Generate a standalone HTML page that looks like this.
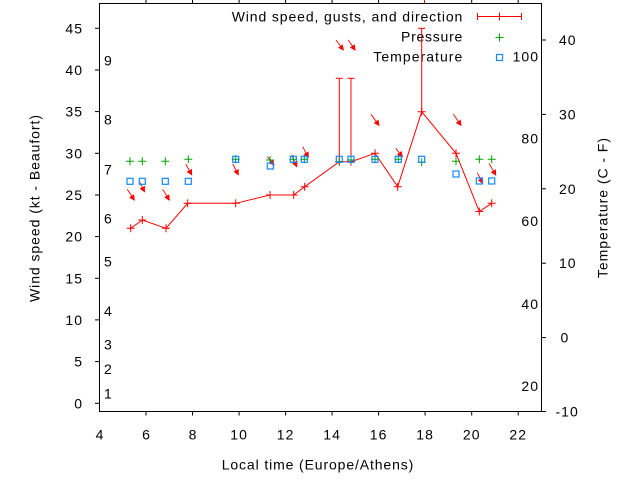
<!DOCTYPE html>
<html>
<head>
<meta charset="utf-8">
<style>
  html,body{margin:0;padding:0;background:#fff;}
  svg{display:block;}
  text{font-family:"Liberation Sans",sans-serif;font-size:14px;fill:#000;}
</style>
</head>
<body>
<svg width="640" height="480" viewBox="0 0 640 480" xmlns="http://www.w3.org/2000/svg">
  <defs>
    <marker id="ah" markerWidth="6" markerHeight="6" refX="5" refY="3" orient="auto" markerUnits="userSpaceOnUse">
      <path d="M0,0 L6,3 L0,6 z" fill="#ff0000"/>
    </marker>
  </defs>
  <rect x="0" y="0" width="640" height="480" fill="#fff"/>

  <!-- border -->
  <rect x="99.5" y="3.5" width="442" height="408" fill="none" stroke="#000" stroke-width="1"/>

  <!-- left ticks (outward) -->
  <g stroke="#000" stroke-width="1">
    <line x1="95" y1="403.3" x2="99.5" y2="403.3"/>
    <line x1="95" y1="361.6" x2="99.5" y2="361.6"/>
    <line x1="95" y1="319.9" x2="99.5" y2="319.9"/>
    <line x1="95" y1="278.3" x2="99.5" y2="278.3"/>
    <line x1="95" y1="236.6" x2="99.5" y2="236.6"/>
    <line x1="95" y1="195" x2="99.5" y2="195"/>
    <line x1="95" y1="153.3" x2="99.5" y2="153.3"/>
    <line x1="95" y1="111.6" x2="99.5" y2="111.6"/>
    <line x1="95" y1="70" x2="99.5" y2="70"/>
    <line x1="95" y1="28.3" x2="99.5" y2="28.3"/>
    <!-- right ticks -->
    <line x1="541.5" y1="411.5" x2="546" y2="411.5"/>
    <line x1="541.5" y1="337.6" x2="546" y2="337.6"/>
    <line x1="541.5" y1="263.2" x2="546" y2="263.2"/>
    <line x1="541.5" y1="188.8" x2="546" y2="188.8"/>
    <line x1="541.5" y1="114.4" x2="546" y2="114.4"/>
    <line x1="541.5" y1="40" x2="546" y2="40"/>
    <!-- bottom ticks -->
    <line x1="146" y1="411.5" x2="146" y2="415.5"/>
    <line x1="192.5" y1="411.5" x2="192.5" y2="415.5"/>
    <line x1="239.1" y1="411.5" x2="239.1" y2="415.5"/>
    <line x1="285.6" y1="411.5" x2="285.6" y2="415.5"/>
    <line x1="332.1" y1="411.5" x2="332.1" y2="415.5"/>
    <line x1="378.6" y1="411.5" x2="378.6" y2="415.5"/>
    <line x1="425.1" y1="411.5" x2="425.1" y2="415.5"/>
    <line x1="471.7" y1="411.5" x2="471.7" y2="415.5"/>
    <line x1="518.2" y1="411.5" x2="518.2" y2="415.5"/>
    <!-- top ticks -->
    <line x1="146" y1="0" x2="146" y2="3.5"/>
    <line x1="192.5" y1="0" x2="192.5" y2="3.5"/>
    <line x1="239.1" y1="0" x2="239.1" y2="3.5"/>
    <line x1="285.6" y1="0" x2="285.6" y2="3.5"/>
    <line x1="332.1" y1="0" x2="332.1" y2="3.5"/>
    <line x1="378.6" y1="0" x2="378.6" y2="3.5"/>
    <line x1="471.7" y1="0" x2="471.7" y2="3.5"/>
    <line x1="518.2" y1="0" x2="518.2" y2="3.5"/>
  </g>
  <line x1="424.5" y1="0" x2="424.5" y2="3.5" stroke="#ff0000" stroke-width="1"/>

  <!-- left axis labels -->
  <g text-anchor="end" style="letter-spacing:1px">
    <text x="83" y="408.3">0</text>
    <text x="83" y="366.6">5</text>
    <text x="83" y="324.9">10</text>
    <text x="83" y="283.3">15</text>
    <text x="83" y="241.6">20</text>
    <text x="83" y="200">25</text>
    <text x="83" y="158.3">30</text>
    <text x="83" y="116.6">35</text>
    <text x="83" y="75">40</text>
    <text x="83" y="33.3">45</text>
  </g>

  <!-- Beaufort labels -->
  <g>
    <text x="104" y="65.3">9</text>
    <text x="104" y="124.3">8</text>
    <text x="104" y="174.3">7</text>
    <text x="104" y="223.3">6</text>
    <text x="104" y="266.7">5</text>
    <text x="104" y="316">4</text>
    <text x="104" y="349.3">3</text>
    <text x="104" y="374">2</text>
    <text x="104" y="398.3">1</text>
  </g>

  <!-- Fahrenheit labels -->
  <g text-anchor="end" style="letter-spacing:1px">
    <text x="539" y="61.7">100</text>
    <text x="539" y="143.3">80</text>
    <text x="539" y="226">60</text>
    <text x="539" y="309">40</text>
    <text x="539" y="391">20</text>
  </g>

  <!-- Celsius labels -->
  <g style="letter-spacing:1px">
    <text x="559" y="45">40</text>
    <text x="559" y="119.4">30</text>
    <text x="559" y="193.8">20</text>
    <text x="559" y="268.2">10</text>
    <text x="560.5" y="342.6">0</text>
    <text x="555.5" y="416.5">-10</text>
  </g>

  <!-- bottom labels -->
  <g text-anchor="middle">
    <text x="99.5" y="439.5">4</text>
    <text x="146" y="439.5">6</text>
    <text x="192.5" y="439.5">8</text>
    <text x="239.1" y="439.5" style="letter-spacing:1px">10</text>
    <text x="285.6" y="439.5" style="letter-spacing:1px">12</text>
    <text x="332.1" y="439.5" style="letter-spacing:1px">14</text>
    <text x="378.6" y="439.5" style="letter-spacing:1px">16</text>
    <text x="425.1" y="439.5" style="letter-spacing:1px">18</text>
    <text x="471.7" y="439.5" style="letter-spacing:1px">20</text>
    <text x="518.2" y="439.5" style="letter-spacing:1px">22</text>
  </g>

  <!-- axis titles -->
  <text x="221.7" y="469.5" textLength="191.6" lengthAdjust="spacing">Local time (Europe/Athens)</text>
  <text transform="translate(39.3,302) rotate(-90)" x="0" y="0" textLength="187" lengthAdjust="spacing">Wind speed (kt - Beaufort)</text>
  <text transform="translate(607.5,278) rotate(-90)" x="0" y="0" textLength="140" lengthAdjust="spacing">Temperature (C - F)</text>

  <!-- legend -->
  <text x="231.7" y="21.5" textLength="230.6" lengthAdjust="spacing">Wind speed, gusts, and direction</text>
  <text x="401" y="41.5" textLength="61.3" lengthAdjust="spacing">Pressure</text>
  <text x="373.3" y="61.5" textLength="89" lengthAdjust="spacing">Temperature</text>
  <g stroke="#ff0000" stroke-width="1">
    <line x1="477.5" y1="16.5" x2="521.5" y2="16.5"/>
    <line x1="477.5" y1="13" x2="477.5" y2="20"/>
    <line x1="521.5" y1="13" x2="521.5" y2="20"/>
    <line x1="499.5" y1="12.5" x2="499.5" y2="20.5"/>
  </g>
  <g stroke="#00a000" stroke-width="1">
    <line x1="495.5" y1="37.5" x2="503.5" y2="37.5"/>
    <line x1="499.5" y1="33.5" x2="499.5" y2="41.5"/>
  </g>
  <rect x="496.5" y="54.5" width="6" height="6" fill="none" stroke="#1088ff" stroke-width="1.2"/>

  <!-- direction arrows -->
  <g stroke="#ff0000" stroke-width="0.9" fill="none" marker-end="url(#ah)">
    <line x1="127.3" y1="189.3" x2="134.3" y2="200"/>
    <line x1="140" y1="182.7" x2="144.5" y2="191.7"/>
    <line x1="162.7" y1="189.3" x2="169.3" y2="200"/>
    <line x1="185.7" y1="164" x2="191.7" y2="174.7"/>
    <line x1="232.7" y1="164" x2="238.3" y2="174.7"/>
    <line x1="267.3" y1="156.7" x2="274" y2="165"/>
    <line x1="291.7" y1="155" x2="296.7" y2="166.7"/>
    <line x1="302.7" y1="146.7" x2="308.3" y2="157.3"/>
    <line x1="336" y1="40" x2="343.3" y2="50"/>
    <line x1="348.3" y1="40" x2="355" y2="50"/>
    <line x1="371" y1="114.3" x2="379" y2="125.3"/>
    <line x1="395.7" y1="148.3" x2="402.3" y2="156.7"/>
    <line x1="453.3" y1="114.3" x2="461" y2="125.3"/>
    <line x1="477.3" y1="172.7" x2="482.7" y2="183.3"/>
    <line x1="489" y1="163.3" x2="495.7" y2="175"/>
  </g>

  <!-- gust error bars -->
  <g stroke="#ff0000" stroke-width="1">
    <line x1="339.3" y1="161.7" x2="339.3" y2="78.3"/>
    <line x1="335.8" y1="78.3" x2="342.8" y2="78.3"/>
    <line x1="351" y1="161.7" x2="351" y2="78.3"/>
    <line x1="347.5" y1="78.3" x2="354.5" y2="78.3"/>
    <line x1="421.7" y1="111.7" x2="421.7" y2="28.3"/>
    <line x1="418.2" y1="28.3" x2="425.2" y2="28.3"/>
  </g>

  <!-- wind line -->
  <polyline fill="none" stroke="#ff0000" stroke-width="1"
    points="130.7,228.3 142.3,220 166,228.3 187.7,203.3 235.7,203.3 270,195 293.7,195 304.7,186.7 339.3,161.7 351,161.7 375,153.3 397.7,186.7 421.7,111.7 456,153.3 479.3,211.5 491.7,203.3"/>
  <g stroke="#ff0000" stroke-width="1">
    <path d="M126.7,228.3h8M130.7,224.3v8"/>
    <path d="M138.3,220h8M142.3,216v8"/>
    <path d="M162,228.3h8M166,224.3v8"/>
    <path d="M183.7,203.3h8M187.7,199.3v8"/>
    <path d="M231.7,203.3h8M235.7,199.3v8"/>
    <path d="M266,195h8M270,191v8"/>
    <path d="M289.7,195h8M293.7,191v8"/>
    <path d="M300.7,186.7h8M304.7,182.7v8"/>
    <path d="M335.3,161.7h8M339.3,157.7v8"/>
    <path d="M347,161.7h8M351,157.7v8"/>
    <path d="M371,153.3h8M375,149.3v8"/>
    <path d="M393.7,186.7h8M397.7,182.7v8"/>
    <path d="M417.7,111.7h8M421.7,107.7v8"/>
    <path d="M452,153.3h8M456,149.3v8"/>
    <path d="M475.3,211.5h8M479.3,207.5v8"/>
    <path d="M487.7,203.3h8M491.7,199.3v8"/>
  </g>

  <!-- pressure -->
  <g stroke="#00a000" stroke-width="1">
    <path d="M126,161.3h8M130,157.3v8"/>
    <path d="M138.3,161.3h8M142.3,157.3v8"/>
    <path d="M161.3,161.3h8M165.3,157.3v8"/>
    <path d="M184.3,159.3h8M188.3,155.3v8"/>
    <path d="M231.7,159.3h8M235.7,155.3v8"/>
    <path d="M266,160h8M270,156v8"/>
    <path d="M289.3,159.3h8M293.3,155.3v8"/>
    <path d="M300.3,159.3h8M304.3,155.3v8"/>
    <path d="M335.3,161.7h8M339.3,157.7v8"/>
    <path d="M347,160h8M351,156v8"/>
    <path d="M371,159.3h8M375,155.3v8"/>
    <path d="M394.3,159.3h8M398.3,155.3v8"/>
    <path d="M417.7,162.3h8M421.7,158.3v8"/>
    <path d="M452,161.3h8M456,157.3v8"/>
    <path d="M475.3,159.3h8M479.3,155.3v8"/>
    <path d="M487.7,159.3h8M491.7,155.3v8"/>
  </g>

  <!-- temperature -->
  <g fill="none" stroke="#1088ff" stroke-width="1.2">
    <rect x="127" y="178.3" width="6" height="6"/>
    <rect x="139.3" y="178.3" width="6" height="6"/>
    <rect x="162.3" y="178.3" width="6" height="6"/>
    <rect x="185.3" y="178.3" width="6" height="6"/>
    <rect x="232.7" y="156.3" width="6" height="6"/>
    <rect x="267.3" y="163" width="6" height="6"/>
    <rect x="290.3" y="156.3" width="6" height="6"/>
    <rect x="301.3" y="156.3" width="6" height="6"/>
    <rect x="336.3" y="156.3" width="6" height="6"/>
    <rect x="348" y="156.3" width="6" height="6"/>
    <rect x="372" y="156.3" width="6" height="6"/>
    <rect x="395.3" y="156.3" width="6" height="6"/>
    <rect x="418.7" y="156.3" width="6" height="6"/>
    <rect x="453" y="171" width="6" height="6"/>
    <rect x="476.3" y="178" width="6" height="6"/>
    <rect x="488.7" y="178" width="6" height="6"/>
  </g>
</svg>
</body>
</html>
